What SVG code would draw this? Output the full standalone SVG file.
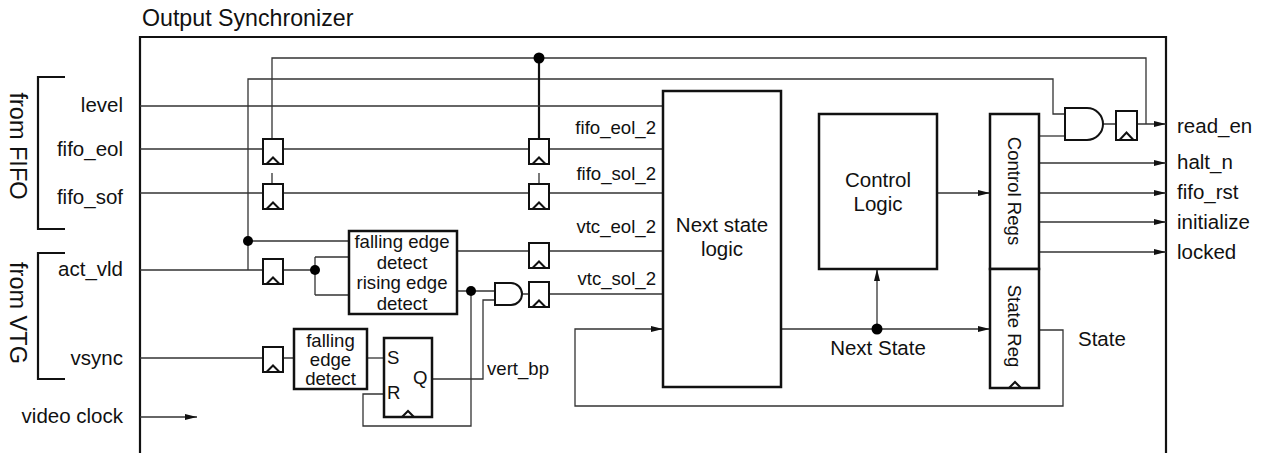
<svg xmlns="http://www.w3.org/2000/svg" xmlns:xlink="http://www.w3.org/1999/xlink" width="1262" height="453" viewBox="0 0 1262 453">
<style>
text{font-family:"Liberation Sans",Arial,sans-serif;fill:#111}
.w{fill:none;stroke:#333;stroke-width:1.3}
.tk{fill:none;stroke:#111;stroke-width:2.2}
.box{fill:#fff;stroke:#111;stroke-width:2.5}
.ffb{fill:#fff;stroke:#111;stroke-width:2}
.dot{fill:#000}
.lbl{font-size:20.5px}
.sm{font-size:18.6px}
.big{font-size:23.5px}
.mid{text-anchor:middle}
.end{text-anchor:end}
</style>
<defs>
<marker id="arr" viewBox="0 0 12 6" refX="12" refY="3" markerWidth="12" markerHeight="6" markerUnits="userSpaceOnUse" orient="auto"><path d="M0,0 L12,3 L0,6 z" fill="#111"/></marker>
<g id="ffshape"><rect x="0" y="0" width="20" height="25" class="ffb"/><polyline points="3.5,25 10,18.5 16.5,25" fill="none" stroke="#111" stroke-width="2"/></g>
</defs>
<rect width="1262" height="453" fill="#fff"/>
<text x="142" y="26" style="font-size:23.2px">Output Synchronizer</text>
<g id="outer"><path d="M140,460 V37 H1166 V460" class="tk"/></g>
<g id="brackets">
<path d="M65,77 H38 V229 H65" class="tk"/>
<path d="M65,253 H38 V379 H65" class="tk"/>
<text class="big mid" transform="translate(10,146) rotate(90)">from FIFO</text>
<text class="big mid" transform="translate(10,313) rotate(90)">from VTG</text>
</g>
<g id="connectors">
<path class="w" d="M272,139 V58 H1146 V124"/>
<path class="w" d="M248,270 V79 H1053 V114 H1065"/>
<path class="tk" d="M539,58 V139"/>
<path class="w" d="M140,106 H663"/>
<path class="w" d="M140,149 H663"/>
<path class="w" d="M272,173 V184 M539,173 V184"/>
<path class="w" d="M140,193 H663"/>
<path class="w" d="M140,270 H315 M315,257 V295 M315,257 H349 M315,295 H349"/>
<path class="w" d="M248,241 H349"/>
<path class="w" d="M457,251 H663"/>
<path class="w" d="M457,291 H495"/>
<path class="w" d="M471,291 V426 H363 V394 H384"/>
<path class="w" d="M432,379 H483 V300 H495"/>
<path class="w" d="M522,294 H663"/>
<path class="w" d="M140,358 H294"/>
<path class="w" d="M367,358 H384"/>
<path class="w" d="M140,417 H197" marker-end="url(#arr)"/>
<path class="w" d="M781,329 H990" marker-end="url(#arr)"/>
<path class="w" d="M877,329 V269" marker-end="url(#arr)"/>
<path class="w" d="M937,193 H990" marker-end="url(#arr)"/>
<path class="w" d="M1039,330 H1063 V406 H575 V329 H663" marker-end="url(#arr)"/>
<path class="w" d="M1039,136 H1065"/>
<path class="w" d="M1103,124 H1166" marker-end="url(#arr)"/>
<path class="w" d="M1039,163 H1166" marker-end="url(#arr)"/>
<path class="w" d="M1039,193 H1166" marker-end="url(#arr)"/>
<path class="w" d="M1039,222 H1166" marker-end="url(#arr)"/>
<path class="w" d="M1039,252 H1166" marker-end="url(#arr)"/>
<circle class="dot" cx="539" cy="58" r="5.5"/>
<circle class="dot" cx="248" cy="241" r="5"/>
<circle class="dot" cx="315" cy="270" r="5"/>
<circle class="dot" cx="471" cy="291" r="5"/>
<circle class="dot" cx="877" cy="329" r="5.5"/>
</g>
<g id="ff_fifo_eol_1"><use xlink:href="#ffshape" x="263" y="139"/></g>
<g id="ff_fifo_sof_1"><use xlink:href="#ffshape" x="263" y="184"/></g>
<g id="ff_act_vld"><use xlink:href="#ffshape" x="263" y="259"/></g>
<g id="ff_vsync"><use xlink:href="#ffshape" x="263" y="347"/></g>
<g id="ff_fifo_eol_2"><use xlink:href="#ffshape" x="529" y="139"/></g>
<g id="ff_fifo_sof_2"><use xlink:href="#ffshape" x="529" y="184"/></g>
<g id="ff_vtc_eol"><use xlink:href="#ffshape" x="529" y="243"/></g>
<g id="ff_vtc_sol"><use xlink:href="#ffshape" x="529" y="282"/></g>
<g id="ff_read_en"><rect x="1116" y="111" width="21" height="29" class="ffb"/><polyline points="1119.5,140 1126.5,132.5 1133.5,140" fill="none" stroke="#111" stroke-width="2"/></g>
<g id="and_vtc"><path d="M495,283 H511 A11,11 0 0 1 511,305 H495 Z" class="ffb"/></g>
<g id="and_read"><path d="M1065,108 H1087 A16,16 0 0 1 1087,140 H1065 Z" class="ffb"/></g>
<g id="edge_detect">
<rect x="349" y="231" width="108" height="83" class="box"/>
<text class="sm mid" x="402" y="248">falling edge</text>
<text class="sm mid" x="402" y="269">detect</text>
<text class="sm mid" x="402" y="289">rising edge</text>
<text class="sm mid" x="402" y="310">detect</text>
</g>
<g id="falling_edge_vsync">
<rect x="294" y="329" width="73" height="60" class="box"/>
<text class="sm mid" x="330.5" y="347">falling</text>
<text class="sm mid" x="330.5" y="366">edge</text>
<text class="sm mid" x="330.5" y="385">detect</text>
</g>
<g id="sr_ff">
<rect x="384" y="338" width="48" height="79" class="box"/>
<polyline points="402,417 408,411 414,417" fill="none" stroke="#111" stroke-width="2"/>
<text class="sm" x="387" y="364">S</text>
<text class="sm" x="387" y="399">R</text>
<text class="sm" x="413" y="384">Q</text>
</g>
<g id="next_state_logic">
<rect x="663" y="91" width="118" height="296" class="box"/>
<text class="lbl mid" x="722" y="232">Next state</text>
<text class="lbl mid" x="722" y="256">logic</text>
</g>
<g id="control_logic">
<rect x="819" y="114" width="118" height="155" class="box"/>
<text class="lbl mid" x="878" y="187">Control</text>
<text class="lbl mid" x="878" y="211">Logic</text>
</g>
<g id="control_regs">
<rect x="990" y="114" width="49" height="155" class="box"/>
<text class="sm mid" transform="translate(1008,191) rotate(90)">Control Regs</text>
</g>
<g id="state_reg">
<rect x="990" y="269" width="49" height="119" class="box"/>
<polyline points="1009,388 1015,382 1021,388" fill="none" stroke="#111" stroke-width="2"/>
<text class="sm mid" transform="translate(1008,326) rotate(90)">State Reg</text>
</g>
<g id="labels">
<text class="lbl end" x="123" y="112">level</text>
<text class="lbl end" x="123" y="156">fifo_eol</text>
<text class="lbl end" x="123" y="204">fifo_sof</text>
<text class="lbl end" x="123" y="276">act_vld</text>
<text class="lbl end" x="123" y="365">vsync</text>
<text class="lbl end" x="123" y="423">video clock</text>
<text class="sm end" x="656" y="134">fifo_eol_2</text>
<text class="sm end" x="656" y="180">fifo_sol_2</text>
<text class="sm end" x="656" y="233">vtc_eol_2</text>
<text class="sm end" x="656" y="285">vtc_sol_2</text>
<text class="sm" x="487" y="375">vert_bp</text>
<text class="lbl mid" x="878" y="355">Next State</text>
<text class="lbl" x="1078" y="346">State</text>
<text class="lbl" x="1177" y="133">read_en</text>
<text class="lbl" x="1177" y="169">halt_n</text>
<text class="lbl" x="1177" y="199">fifo_rst</text>
<text class="lbl" x="1177" y="229">initialize</text>
<text class="lbl" x="1177" y="259">locked</text>
</g>
</svg>
